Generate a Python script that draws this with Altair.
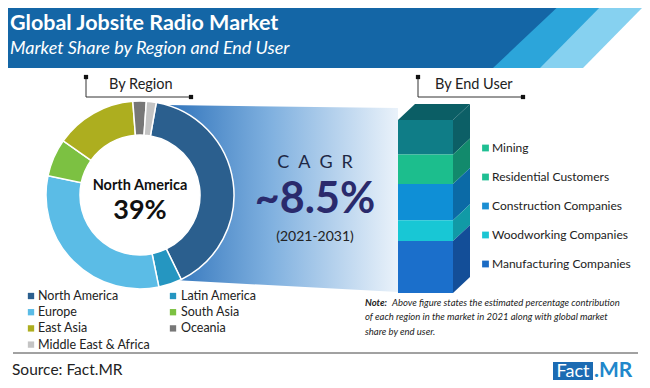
import math
import altair as alt
import pandas as pd

# ------------------------------------------------------------------ data
regions = ["North America", "Latin America", "Europe", "South Asia",
           "East Asia", "Oceania", "Middle East & Africa"]
region_share = [40.0, 4.0, 31.5, 6.5, 14.0, 2.3, 1.7]

end_users = ["Mining", "Residential Customers", "Construction Companies",
             "Woodworking Companies", "Manufacturing Companies"]
end_user_share = [20, 17, 21, 12, 30]

title_text = "Global Jobsite Radio Market"
subtitle_text = "Market Share by Region and End User"
center_label = "North America"
center_value = "39%"
cagr_label = "C\u2002A\u2002G\u2002R"
cagr_value = "~8.5%"
cagr_period = "(2021-2031)"
note_head = "Note:"
note_lines = ["Above figure states the estimated percentage contribution",
              "of each region in the market in 2021 along with global market",
              "share by end user."]
source_text = "Source: Fact.MR"

# ------------------------------------------------------------------ styles
region_colors = ["#2B5F8E", "#2596C1", "#5BBCE6", "#7CC142",
                 "#ADAE1F", "#777777", "#C4C4C4"]
front_colors = ["#0F7D87", "#1CBE8D", "#0F8FD6", "#18C7D5", "#1B6FCB"]
side_colors = ["#0C5F66", "#128A6C", "#0B6AA6", "#119AA6", "#134E98"]
legend_colors = ["#1FBF93", "#1FBF93", "#1B8ED3", "#1CC6D3", "#1B6BC4"]
top_color = "#0B5E65"
FONT = "Lato"
M = 8  # page margin

PX = alt.Scale(domain=[M, 650 - M], range=[0, 650 - 2 * M])
PY = alt.Scale(domain=[M, 388 - M], range=[0, 388 - 2 * M])

# stacked bar geometry
BAR_L, BAR_R, BAR_TOP, BAR_BOT = 398, 453, 120, 293
DX, DY = 17, 16
SY = alt.Scale(domain=[0, 100], range=[BAR_BOT - M, BAR_TOP - M])
DEPTH = DY / (BAR_BOT - BAR_TOP) * 100


def label(text, x, y, size, color="#222222", weight="normal", style="normal",
          align="left", baseline="alphabetic", font=FONT):
    return alt.Chart(pd.DataFrame({"t": [text]})).mark_text(
        align=align, baseline=baseline, fontSize=size, font=font,
        fontWeight=weight, fontStyle=style, color=color
    ).encode(x=alt.value(x - M), y=alt.value(y - M), text="t:N")


layers = []

# ------------------------------------------------------------------ header
for col, xt, xb in [("#86D1F0", 650, 583), ("#2CA5DA", 607, 540), ("#1466A6", 565, 493)]:
    hdf = pd.DataFrame({"y": [0, 68], "x0": [0, 0], "x1": [xt, xb]})
    layers.append(alt.Chart(hdf).mark_area(orient="horizontal", color=col).encode(
        y=alt.Y("y:Q", scale=PY, axis=None),
        x=alt.X("x0:Q", scale=PX, axis=None),
        x2="x1:Q"))

layers.append(label(title_text, 10, 30, 21.5, color="white", weight="bold"))
layers.append(label(subtitle_text, 10, 54, 18, color="white", style="italic"))

# ------------------------------------------------------------------ funnel
fdf = pd.DataFrame({"x": [165, BAR_L], "top": [105, 108], "bot": [279.5, 292]})
layers.append(alt.Chart(fdf).mark_area(
    color=alt.Gradient(gradient="linear", x1=0, x2=1, y1=0, y2=0,
                       stops=[alt.GradientStop(offset=0, color="#2E72BA"),
                              alt.GradientStop(offset=0.45, color="#7FB0DF"),
                              alt.GradientStop(offset=1, color="#EAF2FA")])
).encode(x=alt.X("x:Q", scale=PX, axis=None),
         y=alt.Y("top:Q", scale=PY, axis=None), y2="bot:Q"))

# ------------------------------------------------------------------ donut
ddf = pd.DataFrame({"region": regions, "share": region_share,
                    "idx": list(range(len(regions)))})
start = math.radians(10)
theta_scale = alt.Scale(range=[start, start + 2 * math.pi])

# white hole
layers.append(alt.Chart(ddf).mark_arc(
    innerRadius=0, outerRadius=62, color="white", stroke="white", strokeWidth=1
).encode(theta=alt.Theta("share:Q", stack=True, scale=theta_scale),
         order=alt.Order("idx:Q"),
         x=alt.value(140 - M), y=alt.value(195 - M)))

layers.append(alt.Chart(ddf).mark_arc(
    innerRadius=60, outerRadius=94, stroke="white", strokeWidth=1.5
).encode(
    theta=alt.Theta("share:Q", stack=True, scale=theta_scale),
    color=alt.Color("region:N", scale=alt.Scale(domain=regions, range=region_colors),
                    legend=None),
    order=alt.Order("idx:Q"),
    x=alt.value(140 - M), y=alt.value(195 - M)))

layers.append(label(center_label, 140, 190, 14.5, color="#111111", weight="bold", align="center"))
layers.append(label(center_value, 140, 219, 27, color="#111111", weight="bold", align="center"))

# ------------------------------------------------------------------ CAGR
layers.append(label(cagr_label, 315, 168, 18, color="#1E2845", align="center"))
layers.append(label(cagr_value, 315, 213, 43, color="#2A2A6C", weight="bold", align="center"))
layers.append(label(cagr_period, 315, 241, 14, color="#222222", align="center"))

# ------------------------------------------------------------------ 3D stacked bar
bdf = pd.DataFrame({"user": end_users, "share": end_user_share,
                    "idx": list(range(len(end_users)))})
stacked = alt.Chart(bdf).transform_stack(
    stack="share", groupby=[], as_=["y0", "y1"],
    sort=[alt.SortField("idx", order="descending")])

layers.append(stacked.mark_rect().encode(
    x=alt.value(BAR_L - M), x2=alt.value(BAR_R - M),
    y=alt.Y("y0:Q", scale=SY, axis=None), y2="y1:Q",
    color=alt.Color("user:N", scale=alt.Scale(domain=end_users, range=front_colors),
                    legend=None)))

layers.append(stacked.transform_calculate(f0="0", f1="1").transform_fold(
    ["f0", "f1"], as_=["k", "t"]
).transform_calculate(
    xs=f"{BAR_R} + datum.t * {DX}",
    ya=f"datum.y0 + datum.t * {DEPTH}",
    yb=f"datum.y1 + datum.t * {DEPTH}"
).mark_area().encode(
    x=alt.X("xs:Q", scale=PX, axis=None),
    y=alt.Y("ya:Q", scale=SY, axis=None, stack=None), y2="yb:Q",
    color=alt.Color("user:N", scale=alt.Scale(domain=end_users, range=side_colors),
                    legend=None),
    detail="user:N"))

total = float(sum(end_user_share))
tdf = pd.DataFrame({"y": [total, total + DEPTH],
                    "x0": [BAR_L, BAR_L + DX], "x1": [BAR_R, BAR_R + DX]})
layers.append(alt.Chart(tdf).mark_area(orient="horizontal", color=top_color).encode(
    y=alt.Y("y:Q", scale=SY, axis=None),
    x=alt.X("x0:Q", scale=PX, axis=None), x2="x1:Q"))

# end-user legend
eleg = alt.Chart(bdf).transform_calculate(ly="148 + datum.idx * 29")
layers.append(eleg.mark_square(size=46, opacity=1).encode(
    x=alt.value(485.5 - M),
    y=alt.Y("ly:Q", scale=PY, axis=None),
    color=alt.Color("user:N", scale=alt.Scale(domain=end_users, range=legend_colors),
                    legend=None)))
layers.append(eleg.mark_text(align="left", baseline="middle", fontSize=12,
                             font=FONT, color="#222222").encode(
    x=alt.value(492 - M), y=alt.Y("ly:Q", scale=PY, axis=None), text="user:N"))

# ------------------------------------------------------------------ region legend
rleg = alt.Chart(ddf).transform_calculate(
    col="datum.idx % 2", row="floor(datum.idx / 2)"
).transform_calculate(
    sx="31 + datum.col * 142", tx="38 + datum.col * 143",
    ly="296 + datum.row * 16.2")
layers.append(rleg.mark_square(size=40, opacity=1).encode(
    x=alt.X("sx:Q", scale=PX, axis=None),
    y=alt.Y("ly:Q", scale=PY, axis=None),
    color=alt.Color("region:N", scale=alt.Scale(domain=regions, range=region_colors),
                    legend=None)))
layers.append(rleg.mark_text(align="left", baseline="middle", fontSize=12.5,
                             font=FONT, color="#222222").encode(
    x=alt.X("tx:Q", scale=PX, axis=None),
    y=alt.Y("ly:Q", scale=PY, axis=None), text="region:N"))

# ------------------------------------------------------------------ section brackets
seg = pd.DataFrame({
    "x": [86, 86, 418, 418], "x2": [86, 191, 418, 523],
    "y": [77, 97, 77, 97], "y2": [97, 97, 97, 97]})
layers.append(alt.Chart(seg).mark_rule(color="#333333", strokeWidth=1).encode(
    x=alt.X("x:Q", scale=PX, axis=None), x2="x2:Q",
    y=alt.Y("y:Q", scale=PY, axis=None), y2="y2:Q"))
ends = pd.DataFrame({"x": [86, 191, 418, 523], "y": [77, 97, 77, 97]})
layers.append(alt.Chart(ends).mark_square(size=18, color="#111111", opacity=1).encode(
    x=alt.X("x:Q", scale=PX, axis=None), y=alt.Y("y:Q", scale=PY, axis=None)))
layers.append(label("By Region", 109, 89, 14.5))
layers.append(label("By End User", 435, 89, 14.5))

# ------------------------------------------------------------------ note
layers.append(label(note_head, 365, 303, 9.5, weight="bold", style="italic",
                    baseline="middle"))
layers.append(label(note_lines[0], 392, 303, 9.5, style="italic", baseline="middle"))
layers.append(label(note_lines[1], 365, 317, 9.5, style="italic", baseline="middle"))
layers.append(label(note_lines[2], 365, 331.5, 9.5, style="italic", baseline="middle"))

# ------------------------------------------------------------------ footer
foot = pd.DataFrame({"x": [13], "x2": [638], "y": [353]})
layers.append(alt.Chart(foot).mark_rule(color="#444444", strokeWidth=1).encode(
    x=alt.X("x:Q", scale=PX, axis=None), x2="x2:Q",
    y=alt.Y("y:Q", scale=PY, axis=None)))
layers.append(label(source_text, 12, 370, 15.5, baseline="middle"))

logo = pd.DataFrame({"x": [553], "x2": [593], "y": [362], "y2": [380]})
layers.append(alt.Chart(logo).mark_rect(color="#1B6BB3").encode(
    x=alt.X("x:Q", scale=PX, axis=None), x2="x2:Q",
    y=alt.Y("y:Q", scale=PY, axis=None), y2="y2:Q"))
layers.append(label("Fact", 573, 377, 18, color="white", align="center"))
layers.append(label(".MR", 594, 377, 21, color="#2187CB", weight="bold"))

chart = alt.layer(*layers).resolve_scale(
    y="independent", color="independent"
).properties(
    width=650 - 2 * M, height=388 - 2 * M, padding=0,
    autosize=alt.AutoSizeParams(type="none"), background="white"
).configure_view(stroke=None)

chart.save("out.html", embed_options={"renderer": "svg", "actions": False})
